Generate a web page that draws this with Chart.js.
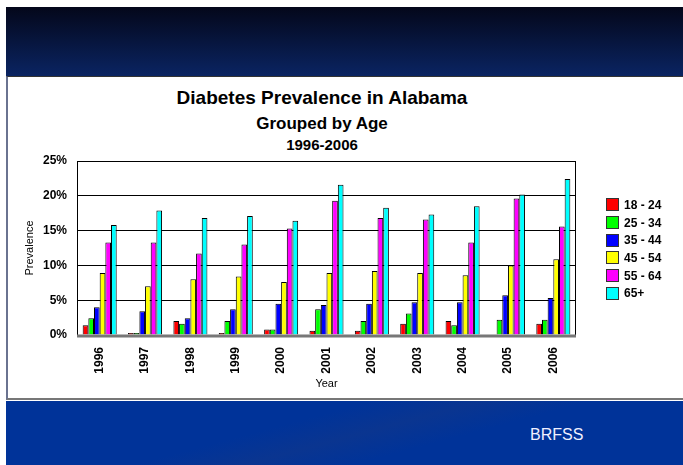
<!DOCTYPE html>
<html>
<head>
    <title>Diabetes Prevalence in Alabama</title>
    <script src="https://cdn.jsdelivr.net/npm/chart.js"></script>
    <style>
        body {
            margin: 0;
            padding: 0;
            width: 683px;
            height: 465px;
            overflow: hidden;
            background: white;
            font-family: Arial, "Liberation Sans", sans-serif;
            position: relative;
        }
        .topbar {
            position: absolute;
            left: 6px;
            top: 7px;
            width: 677px;
            height: 69px;
            background: linear-gradient(#04071a, #0a2462);
        }
        .panel {
            position: absolute;
            left: 6px;
            top: 76px;
            width: 677px;
            height: 324px;
            background: white;
            border-top: 1px solid #333;
            border-left: 2px solid #6a7390;
            border-bottom: 2px solid #777;
            box-sizing: border-box;
        }
        .bottombar {
            position: absolute;
            left: 6px;
            top: 401px;
            width: 677px;
            height: 64px;
            background: linear-gradient(165deg, #003399 40%, #0a3590 52%, #003399 64%);
        }
        .brfss {
            position: absolute;
            left: 530px;
            top: 426px;
            color: #f0f0ff;
            font-size: 16px;
        }
        .title {
            position: absolute;
            left: 0;
            width: 644px;
            text-align: center;
            font-weight: bold;
            color: #000;
        }
        #chartBox {
            position: absolute;
            left: 8px;
            top: 77px;
            width: 675px;
            height: 323px;
        }
        .legend {
            position: absolute;
            left: 606px;
            top: 196px;
            font-size: 12px;
            font-weight: bold;
        }
        .legend div {
            height: 17.7px;
            display: flex;
            align-items: center;
        }
        .legend span.box {
            display: inline-block;
            width: 11px;
            height: 11px;
            border: 1px solid #333;
            margin-right: 5px;
        }
    </style>
</head>
<body>
    <div class="topbar"></div>
    <div class="panel"></div>
    <div class="bottombar"></div>
    <div class="brfss">BRFSS</div>
    <div class="title" style="top:88px;font-size:19px;line-height:20px;">Diabetes Prevalence in Alabama</div>
    <div class="title" style="top:114px;font-size:17px;line-height:20px;">Grouped by Age</div>
    <div class="title" style="top:136px;font-size:15px;line-height:18px;">1996-2006</div>
    <div id="chartBox"><canvas id="chart" width="675" height="323"></canvas></div>
    <div class="legend" id="legend"></div>

    <script>
        var years = ["1996", "1997", "1998", "1999", "2000", "2001", "2002", "2003", "2004", "2005", "2006"];
        var ageGroups = ["18 - 24", "25 - 34", "35 - 44", "45 - 54", "55 - 64", "65+"];
        var colors = ["#ff0000", "#00ff00", "#0000ff", "#ffff00", "#ff00ff", "#00ffff"];

        var age18to24 = [1.4, 0.3, 2.0, 0.3, 0.8, 0.6, 0.6, 1.6, 2.0, 0.0, 1.6];
        var age25to34 = [2.4, 0.3, 1.6, 2.0, 0.8, 3.7, 2.0, 3.1, 1.4, 2.2, 2.2];
        var age35to44 = [4.0, 3.4, 2.4, 3.7, 4.5, 4.3, 4.5, 4.7, 4.7, 5.7, 5.3];
        var age45to54 = [8.9, 7.0, 8.0, 8.4, 7.6, 8.9, 9.2, 8.9, 8.6, 10.0, 10.9];
        var age55to64 = [13.3, 13.3, 11.7, 13.0, 15.3, 19.3, 16.8, 16.6, 13.3, 19.6, 15.6];
        var age65plus = [15.8, 17.9, 16.8, 17.1, 16.4, 21.6, 18.3, 17.3, 18.5, 20.2, 22.4];

        var yTicks = [0, 5, 10, 15, 20, 25];

        var seriesValues = [age18to24, age25to34, age35to44, age45to54, age55to64, age65plus];

        var datasets = [];
        for (var i = 0; i < ageGroups.length; i++) {
            datasets.push({
                label: ageGroups[i],
                data: seriesValues[i],
                backgroundColor: colors[i],
                borderColor: "#000",
                borderWidth: 1,
                categoryPercentage: 0.75,
                barPercentage: 1.0
            });
        }

        // legend in html, built from the series names
        var legend = document.getElementById("legend");
        for (var i = 0; i < ageGroups.length; i++) {
            var row = document.createElement("div");
            row.innerHTML = '<span class="box" style="background:' + colors[i] + '"></span>' + ageGroups[i];
            legend.appendChild(row);
        }

        // black frame round the plot area
        var frame = {
            id: "frame",
            afterDatasetsDraw: function (chart) {
                var a = chart.chartArea;
                var ctx = chart.ctx;
                ctx.save();
                ctx.strokeStyle = "#000";
                ctx.lineWidth = 1;
                ctx.strokeRect(a.left + 0.5, a.top + 0.5, a.right - a.left - 1, a.bottom - a.top);
                ctx.strokeStyle = "#777";
                ctx.lineWidth = 3;
                ctx.beginPath();
                ctx.moveTo(a.left, a.bottom + 1);
                ctx.lineTo(a.right, a.bottom + 1);
                ctx.stroke();
                ctx.restore();
            }
        };

        Chart.defaults.font.family = "Arial, 'Liberation Sans', sans-serif";
        Chart.defaults.color = "#000";

        new Chart(document.getElementById("chart"), {
            type: "bar",
            data: { labels: years, datasets: datasets },
            plugins: [frame],
            options: {
                responsive: false,
                animation: false,
                layout: { padding: { left: 0, top: 84, right: 107, bottom: 0 } },
                plugins: {
                    legend: { display: false },
                    title: { display: false },
                    tooltip: { enabled: false }
                },
                scales: {
                    x: {
                        grid: { display: false },
                        border: { display: false },
                        ticks: {
                            minRotation: 90,
                            maxRotation: 90,
                            padding: 4,
                            font: { size: 12, weight: "bold" }
                        },
                        title: {
                            display: true,
                            text: "Year",
                            font: { size: 11 },
                            padding: { top: 0, bottom: 9 }
                        },
                        afterFit: function (scale) { scale.height = 65; }
                    },
                    y: {
                        min: 0,
                        max: 25,
                        afterBuildTicks: function (scale) {
                            scale.ticks = yTicks.map(function (v) { return { value: v }; });
                        },
                        grid: { color: "#000", drawTicks: false },
                        border: { display: false },
                        ticks: {
                            padding: 10,
                            font: { size: 12, weight: "bold" },
                            callback: function (v) { return v + "%"; }
                        },
                        title: {
                            display: true,
                            text: "Prevalence",
                            font: { size: 11 },
                            padding: { top: 15, bottom: 0 }
                        },
                        afterFit: function (scale) { scale.width = 69; }
                    }
                }
            }
        });
    </script>
</body>
</html>
